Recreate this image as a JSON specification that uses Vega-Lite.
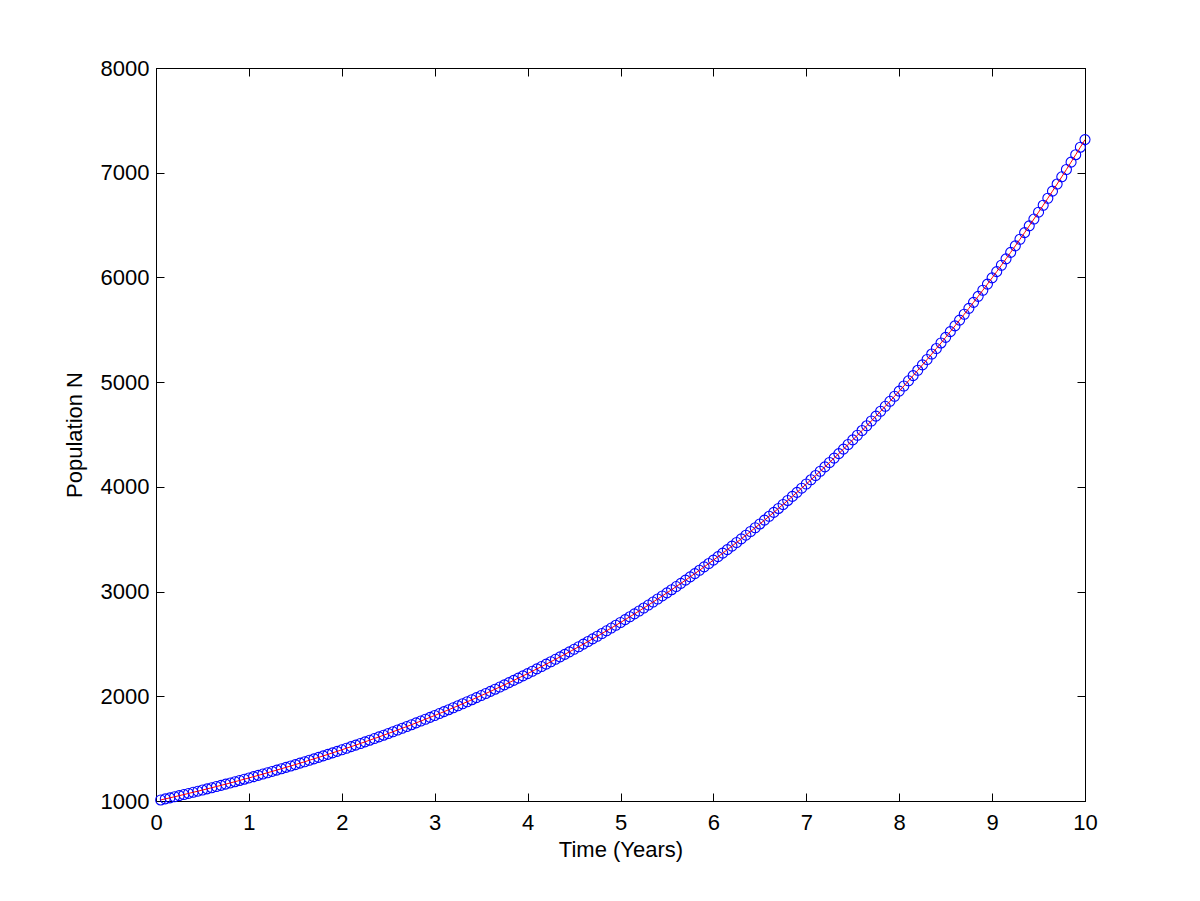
{
  "$schema": "https://vega.github.io/schema/vega-lite/v6.json",
  "width": 929,
  "height": 733,
  "autosize": {"type": "none"},
  "padding": {"left": 156, "top": 68, "right": 115, "bottom": 100},
  "background": "white",
  "config": {
    "view": {"stroke": "black", "strokeWidth": 1},
    "axis": {
      "labelFont": "Liberation Sans",
      "titleFont": "Liberation Sans",
      "labelFontSize": 22,
      "titleFontSize": 22,
      "labelColor": "black",
      "titleColor": "black",
      "titleFontWeight": "normal",
      "domainColor": "black",
      "tickColor": "black",
      "grid": false,
      "tickSize": -8,
      "labelFlush": false,
      "labelOverlap": false
    }
  },
  "data": {"values": [
    {"t":0.05,"N":1010},{"t":0.1,"N":1020.1},{"t":0.15,"N":1030.3},{"t":0.2,"N":1040.6},{"t":0.25,"N":1051},
    {"t":0.3,"N":1061.5},{"t":0.35,"N":1072.1},{"t":0.4,"N":1082.9},{"t":0.45,"N":1093.7},{"t":0.5,"N":1104.6},
    {"t":0.55,"N":1115.7},{"t":0.6,"N":1126.8},{"t":0.65,"N":1138.1},{"t":0.7,"N":1149.5},{"t":0.75,"N":1161},
    {"t":0.8,"N":1172.6},{"t":0.85,"N":1184.3},{"t":0.9,"N":1196.1},{"t":0.95,"N":1208.1},{"t":1,"N":1220.2},
    {"t":1.05,"N":1232.4},{"t":1.1,"N":1244.7},{"t":1.15,"N":1257.2},{"t":1.2,"N":1269.7},{"t":1.25,"N":1282.4},
    {"t":1.3,"N":1295.3},{"t":1.35,"N":1308.2},{"t":1.4,"N":1321.3},{"t":1.45,"N":1334.5},{"t":1.5,"N":1347.8},
    {"t":1.55,"N":1361.3},{"t":1.6,"N":1374.9},{"t":1.65,"N":1388.7},{"t":1.7,"N":1402.6},{"t":1.75,"N":1416.6},
    {"t":1.8,"N":1430.8},{"t":1.85,"N":1445.1},{"t":1.9,"N":1459.5},{"t":1.95,"N":1474.1},{"t":2,"N":1488.9},
    {"t":2.05,"N":1503.8},{"t":2.1,"N":1518.8},{"t":2.15,"N":1534},{"t":2.2,"N":1549.3},{"t":2.25,"N":1564.8},
    {"t":2.3,"N":1580.5},{"t":2.35,"N":1596.3},{"t":2.4,"N":1612.2},{"t":2.45,"N":1628.3},{"t":2.5,"N":1644.6},
    {"t":2.55,"N":1661.1},{"t":2.6,"N":1677.7},{"t":2.65,"N":1694.5},{"t":2.7,"N":1711.4},{"t":2.75,"N":1728.5},
    {"t":2.8,"N":1745.8},{"t":2.85,"N":1763.3},{"t":2.9,"N":1780.9},{"t":2.95,"N":1798.7},{"t":3,"N":1816.7},
    {"t":3.05,"N":1834.9},{"t":3.1,"N":1853.2},{"t":3.15,"N":1871.7},{"t":3.2,"N":1890.5},{"t":3.25,"N":1909.4},
    {"t":3.3,"N":1928.5},{"t":3.35,"N":1947.7},{"t":3.4,"N":1967.2},{"t":3.45,"N":1986.9},{"t":3.5,"N":2006.8},
    {"t":3.55,"N":2026.8},{"t":3.6,"N":2047.1},{"t":3.65,"N":2067.6},{"t":3.7,"N":2088.2},{"t":3.75,"N":2109.1},
    {"t":3.8,"N":2130.2},{"t":3.85,"N":2151.5},{"t":3.9,"N":2173},{"t":3.95,"N":2194.8},{"t":4,"N":2216.7},
    {"t":4.05,"N":2238.9},{"t":4.1,"N":2261.3},{"t":4.15,"N":2283.9},{"t":4.2,"N":2306.7},{"t":4.25,"N":2329.8},
    {"t":4.3,"N":2353.1},{"t":4.35,"N":2376.6},{"t":4.4,"N":2400.4},{"t":4.45,"N":2424.4},{"t":4.5,"N":2448.6},
    {"t":4.55,"N":2473.1},{"t":4.6,"N":2497.9},{"t":4.65,"N":2522.8},{"t":4.7,"N":2548.1},{"t":4.75,"N":2573.5},
    {"t":4.8,"N":2599.3},{"t":4.85,"N":2625.3},{"t":4.9,"N":2651.5},{"t":4.95,"N":2678},{"t":5,"N":2704.8},
    {"t":5.05,"N":2731.9},{"t":5.1,"N":2759.2},{"t":5.15,"N":2786.8},{"t":5.2,"N":2814.6},{"t":5.25,"N":2842.8},
    {"t":5.3,"N":2871.2},{"t":5.35,"N":2899.9},{"t":5.4,"N":2928.9},{"t":5.45,"N":2958.2},{"t":5.5,"N":2987.8},
    {"t":5.55,"N":3017.7},{"t":5.6,"N":3047.9},{"t":5.65,"N":3078.3},{"t":5.7,"N":3109.1},{"t":5.75,"N":3140.2},
    {"t":5.8,"N":3171.6},{"t":5.85,"N":3203.3},{"t":5.9,"N":3235.4},{"t":5.95,"N":3267.7},{"t":6,"N":3300.4},
    {"t":6.05,"N":3333.4},{"t":6.1,"N":3366.7},{"t":6.15,"N":3400.4},{"t":6.2,"N":3434.4},{"t":6.25,"N":3468.7},
    {"t":6.3,"N":3503.4},{"t":6.35,"N":3538.5},{"t":6.4,"N":3573.8},{"t":6.45,"N":3609.6},{"t":6.5,"N":3645.7},
    {"t":6.55,"N":3682.1},{"t":6.6,"N":3719},{"t":6.65,"N":3756.1},{"t":6.7,"N":3793.7},{"t":6.75,"N":3831.6},
    {"t":6.8,"N":3870},{"t":6.85,"N":3908.7},{"t":6.9,"N":3947.7},{"t":6.95,"N":3987.2},{"t":7,"N":4027.1},
    {"t":7.05,"N":4067.4},{"t":7.1,"N":4108},{"t":7.15,"N":4149.1},{"t":7.2,"N":4190.6},{"t":7.25,"N":4232.5},
    {"t":7.3,"N":4274.8},{"t":7.35,"N":4317.6},{"t":7.4,"N":4360.8},{"t":7.45,"N":4404.4},{"t":7.5,"N":4448.4},
    {"t":7.55,"N":4492.9},{"t":7.6,"N":4537.8},{"t":7.65,"N":4583.2},{"t":7.7,"N":4629},{"t":7.75,"N":4675.3},
    {"t":7.8,"N":4722.1},{"t":7.85,"N":4769.3},{"t":7.9,"N":4817},{"t":7.95,"N":4865.2},{"t":8,"N":4913.8},
    {"t":8.05,"N":4963},{"t":8.1,"N":5012.6},{"t":8.15,"N":5062.7},{"t":8.2,"N":5113.3},{"t":8.25,"N":5164.5},
    {"t":8.3,"N":5216.1},{"t":8.35,"N":5268.3},{"t":8.4,"N":5321},{"t":8.45,"N":5374.2},{"t":8.5,"N":5427.9},
    {"t":8.55,"N":5482.2},{"t":8.6,"N":5537},{"t":8.65,"N":5592.4},{"t":8.7,"N":5648.3},{"t":8.75,"N":5704.8},
    {"t":8.8,"N":5761.8},{"t":8.85,"N":5819.5},{"t":8.9,"N":5877.7},{"t":8.95,"N":5936.4},{"t":9,"N":5995.8},
    {"t":9.05,"N":6055.8},{"t":9.1,"N":6116.3},{"t":9.15,"N":6177.5},{"t":9.2,"N":6239.3},{"t":9.25,"N":6301.6},
    {"t":9.3,"N":6364.7},{"t":9.35,"N":6428.3},{"t":9.4,"N":6492.6},{"t":9.45,"N":6557.5},{"t":9.5,"N":6623.1},
    {"t":9.55,"N":6689.3},{"t":9.6,"N":6756.2},{"t":9.65,"N":6823.8},{"t":9.7,"N":6892},{"t":9.75,"N":6960.9},
    {"t":9.8,"N":7030.5},{"t":9.85,"N":7100.9},{"t":9.9,"N":7171.9},{"t":9.95,"N":7243.6},{"t":10,"N":7316}
  ]},
  "resolve": {"axis": {"x": "independent", "y": "independent"}},
  "layer": [
    {
      "mark": {"type": "point", "shape": "circle", "filled": false, "stroke": "#0000ff", "strokeWidth": 1.1, "size": 100, "clip": false, "opacity": 1},
      "encoding": {
        "x": {"field": "t", "type": "quantitative", "scale": {"domain": [0, 10], "nice": false, "zero": false},
              "axis": {"orient": "bottom", "title": "Time (Years)", "values": [0,1,2,3,4,5,6,7,8,9,10], "format": "d", "labelPadding": 19, "titlePadding": 6}},
        "y": {"field": "N", "type": "quantitative", "scale": {"domain": [1000, 8000], "nice": false, "zero": false},
              "axis": {"orient": "left", "title": "Population N", "values": [1000,2000,3000,4000,5000,6000,7000,8000], "format": "d", "labelPadding": 15, "titlePadding": 14}}
      }
    },
    {
      "mark": {"type": "line", "color": "#ff0000", "strokeWidth": 1},
      "encoding": {
        "x": {"field": "t", "type": "quantitative", "axis": {"orient": "top", "title": null, "labels": false, "values": [0,1,2,3,4,5,6,7,8,9,10]}},
        "y": {"field": "N", "type": "quantitative", "axis": {"orient": "right", "title": null, "labels": false, "values": [1000,2000,3000,4000,5000,6000,7000,8000]}}
      }
    }
  ]
}
